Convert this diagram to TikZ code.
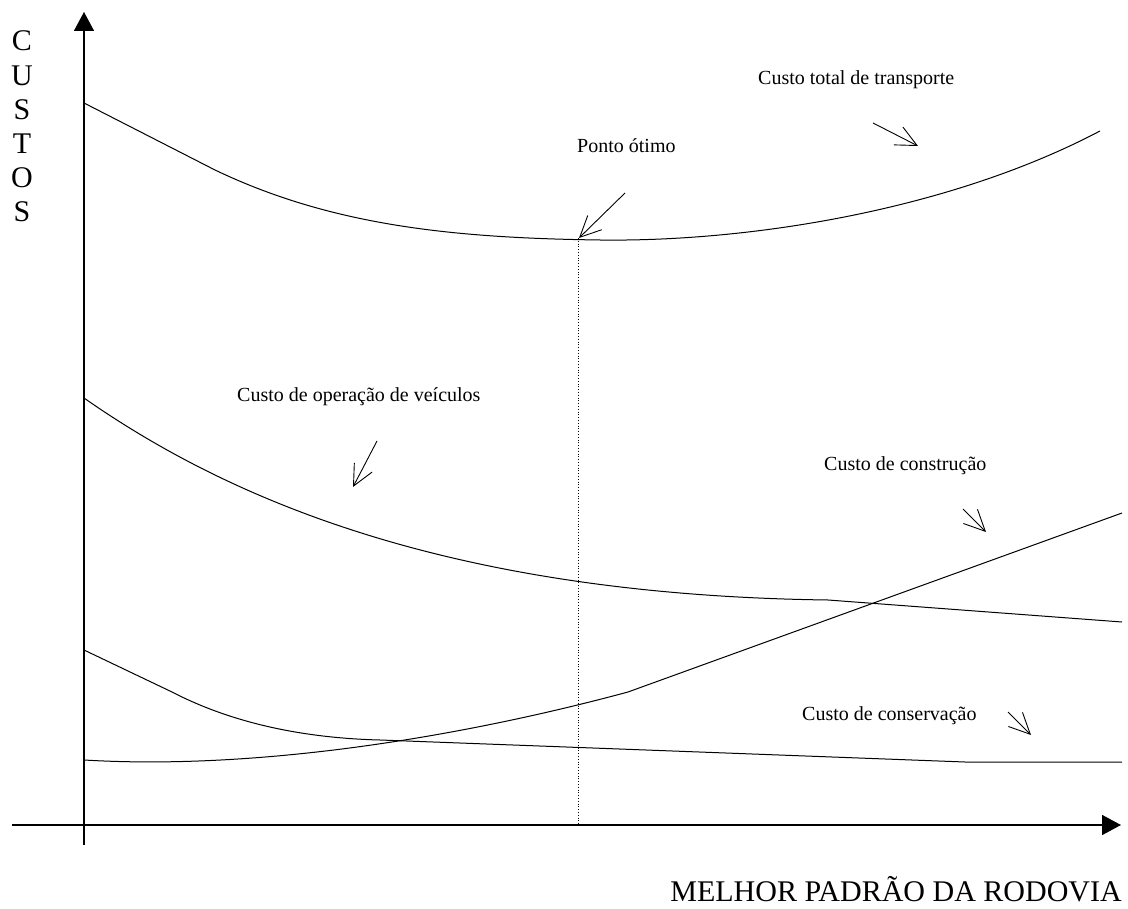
\documentclass[tikz,border=0pt]{standalone}
\usepackage{fontspec}
\setmainfont{Liberation Serif}
\usetikzlibrary{arrows.meta}
\begin{document}
\begin{tikzpicture}[x=1pt,y=-1pt,
  axisline/.style={line width=1.6pt,-{Triangle[length=19pt,width=20pt]}},
  curve/.style={line width=1pt},
  ptr/.style={line width=0.9pt,-{Straight Barb[length=21pt,width=20pt,line width=0.9pt]}},
  lbl/.style={font=\fontsize{20}{24}\selectfont,inner sep=0pt,anchor=base west},
  big/.style={font=\fontsize{30}{34}\selectfont,inner sep=0pt,anchor=base}]
\useasboundingbox (0,0) rectangle (1128,909);
% axes
\coordinate (yb) at (84,845);
\coordinate (yt) at (84,12);
\coordinate (xl) at (12,825);
\coordinate (xr) at (1121,825);
\draw[axisline] (yb) -- (yt);
\draw[axisline] (xl) -- (xr);
% axis labels
\foreach \ch [count=\i from 0] in {C,U,S,T,O,S}
  \node[big] (c\i) at (22,{51+34.2*\i}) {\ch};
\node[big,anchor=base east] (xlab) at (1122,901) {MELHOR PADRÃO DA RODOVIA};
% total cost
\draw[curve] (84,103) -- (215,170) .. controls (330,225) and (450,238) .. (600,240)
  .. controls (750,242) and (950,210) .. (1100,131);
% vehicle operation
\draw[curve] (84,398) .. controls (230,500) and (450,595) .. (828,600) -- (1122,622);
% construction
\draw[curve] (84,760) .. controls (250,770) and (450,740) .. (628,692) -- (1122,513);
% conservation
\draw[curve] (84,650) -- (172,692) .. controls (230,722) and (300,738) .. (380,740)
  -- (965,762) -- (1122,762);
% optimum
\coordinate (opt) at (578,238);
\coordinate (optb) at (578,825);
\draw[line width=0.8pt,dotted] (opt) -- (optb);
% labels
\node[lbl] (ltot) at (758,85) {Custo total de transporte};
\node[lbl] (lpt) at (577,153) {Ponto ótimo};
\node[lbl] (lop) at (237,402) {Custo de operação de veículos};
\node[lbl] (lcon) at (824,471) {Custo de construção};
\node[lbl] (lcs) at (802,720) {Custo de conservação};
% pointers
\coordinate (a1s) at (873,123); \coordinate (a1e) at (918,146);
\coordinate (a2s) at (625,193); \coordinate (a2e) at (579,238);
\coordinate (a3s) at (377,441); \coordinate (a3e) at (353,487);
\coordinate (a4s) at (963,509); \coordinate (a4e) at (986,532);
\coordinate (a5s) at (1008,712); \coordinate (a5e) at (1031,735);
\draw[ptr] (a1s) -- (a1e);
\draw[ptr] (a2s) -- (a2e);
\draw[ptr] (a3s) -- (a3e);
\draw[ptr] (a4s) -- (a4e);
\draw[ptr] (a5s) -- (a5e);
\end{tikzpicture}
\end{document}
